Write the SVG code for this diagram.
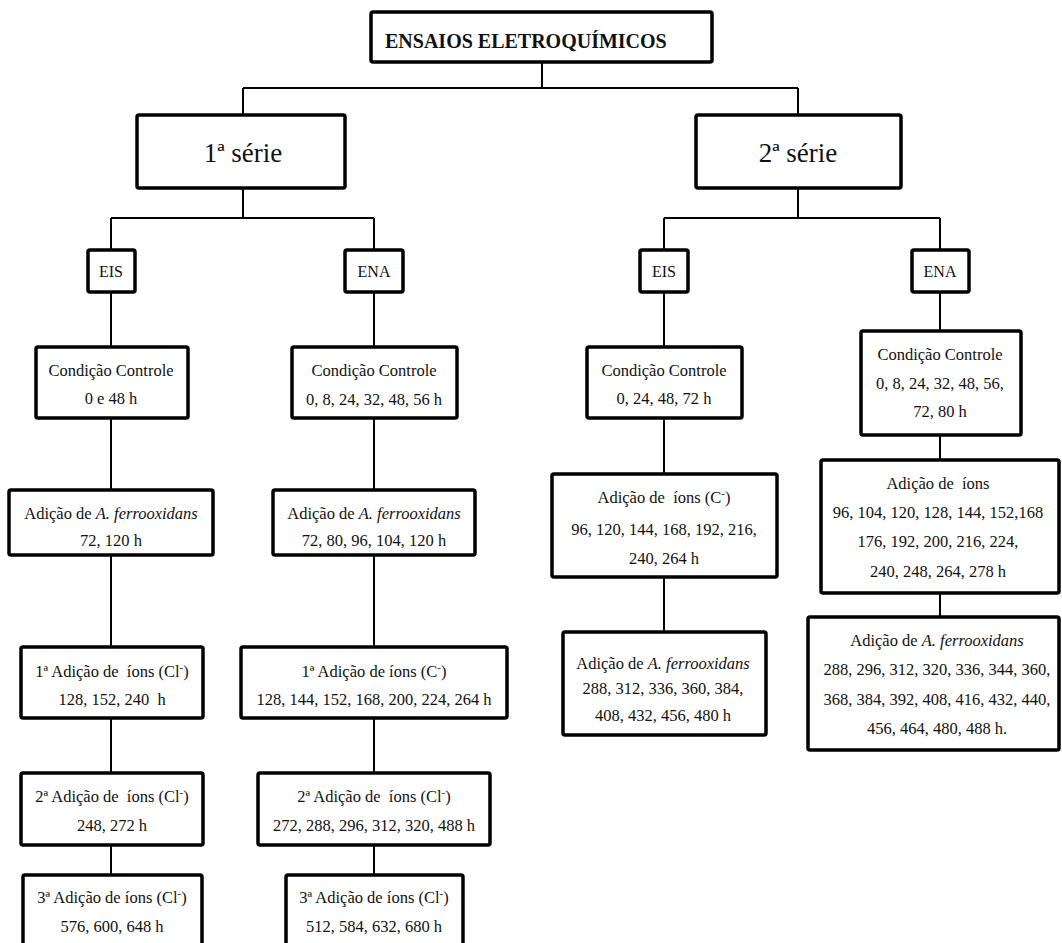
<svg xmlns="http://www.w3.org/2000/svg" width="1062" height="943" viewBox="0 0 1062 943">
<style>
.box{fill:#fff;stroke:#000;stroke-width:3.5}
.con{stroke:#000;stroke-width:2;fill:none}
text{font-family:"Times New Roman",Times,"Liberation Serif",Tinos,"DejaVu Serif",serif;fill:#111;text-anchor:middle;white-space:pre}
.t{font-size:16.5px}
.s{font-size:16px}
.big{font-size:27px}
.title{font-size:20px;font-weight:bold;text-anchor:start}
.i{font-style:italic}
</style>
<rect width="1062" height="943" fill="#fff"/>
<g id="connectors">
<path class="con" d="M542,62V88M243,88H798M243,88V115M798,88V115"/>
<path class="con" d="M243,188V218M111,218H374M111,218V250M374,218V250"/>
<path class="con" d="M798,188V218M664,218H940M664,218V250M940,218V250"/>
<path class="con" d="M111,292V347M111,418V490M111,555V647M111,718V773M111,845V875"/>
<path class="con" d="M374,292V347M374,418V490M374,555V647M374,718V773M374,845V875"/>
<path class="con" d="M664,292V347M664,418V474M664,577V632"/>
<path class="con" d="M940,292V331M940,435V460M940,593V617"/>
</g>
<g id="n-title"><rect class="box" x="371" y="12" width="341" height="50" rx="2"/><text class="title" x="385" y="48">ENSAIOS ELETROQUÍMICOS</text></g>
<g id="n-serie1"><rect class="box" x="137" y="115" width="208" height="73" rx="2"/><text class="big" x="243" y="162">1ª série</text></g>
<g id="n-serie2"><rect class="box" x="696" y="115" width="205" height="73" rx="2"/><text class="big" x="798" y="162">2ª série</text></g>
<g id="n-eis1"><rect class="box" x="88" y="250" width="47" height="42" rx="2"/><text class="s" x="111" y="277">EIS</text></g>
<g id="n-ena1"><rect class="box" x="345" y="250" width="58" height="42" rx="2"/><text class="s" x="374" y="277">ENA</text></g>
<g id="n-eis2"><rect class="box" x="640" y="250" width="48" height="42" rx="2"/><text class="s" x="664" y="277">EIS</text></g>
<g id="n-ena2"><rect class="box" x="912" y="250" width="57" height="42" rx="2"/><text class="s" x="940" y="277">ENA</text></g>

<g id="n-c1"><rect class="box" x="36" y="347" width="152" height="71" rx="2"/><text class="t" x="111" y="376">Condição Controle</text><text class="t" x="111" y="404">0 e 48 h</text></g>
<g id="n-a1"><rect class="box" x="9" y="490" width="204" height="65" rx="2"/><text class="t" x="111" y="519">Adição de <tspan class="i">A. ferrooxidans</tspan></text><text class="t" x="111" y="546">72, 120 h</text></g>
<g id="n-i1a"><rect class="box" x="21" y="647" width="182" height="71" rx="2"/><text class="t" x="112" y="677">1ª Adição de  íons (Cl<tspan dy="-6" font-size="11">-</tspan><tspan dy="6">)</tspan></text><text class="t" x="112" y="705">128, 152, 240  h</text></g>
<g id="n-i1b"><rect class="box" x="21" y="773" width="182" height="72" rx="2"/><text class="t" x="112" y="802">2ª Adição de  íons (Cl<tspan dy="-6" font-size="11">-</tspan><tspan dy="6">)</tspan></text><text class="t" x="112" y="831">248, 272 h</text></g>
<g id="n-i1c"><rect class="box" x="23" y="875" width="179" height="80" rx="2"/><text class="t" x="112" y="903">3ª Adição de íons (Cl<tspan dy="-6" font-size="11">-</tspan><tspan dy="6">)</tspan></text><text class="t" x="112" y="932">576, 600, 648 h</text></g>

<g id="n-c2"><rect class="box" x="292" y="347" width="165" height="71" rx="2"/><text class="t" x="374" y="376">Condição Controle</text><text class="t" x="374" y="405">0, 8, 24, 32, 48, 56 h</text></g>
<g id="n-a2"><rect class="box" x="273" y="490" width="202" height="65" rx="2"/><text class="t" x="374" y="519">Adição de <tspan class="i">A. ferrooxidans</tspan></text><text class="t" x="374" y="546">72, 80, 96, 104, 120 h</text></g>
<g id="n-i2a"><rect class="box" x="241" y="647" width="266" height="71" rx="2"/><text class="t" x="374" y="677">1ª Adição de íons (C<tspan dy="-6" font-size="11">-</tspan><tspan dy="6">)</tspan></text><text class="t" x="374" y="705">128, 144, 152, 168, 200, 224, 264 h</text></g>
<g id="n-i2b"><rect class="box" x="258" y="773" width="232" height="72" rx="2"/><text class="t" x="374" y="802">2ª Adição de  íons (Cl<tspan dy="-6" font-size="11">-</tspan><tspan dy="6">)</tspan></text><text class="t" x="374" y="831">272, 288, 296, 312, 320, 488 h</text></g>
<g id="n-i2c"><rect class="box" x="286" y="875" width="177" height="80" rx="2"/><text class="t" x="374" y="903">3ª Adição de íons (Cl<tspan dy="-6" font-size="11">-</tspan><tspan dy="6">)</tspan></text><text class="t" x="374" y="932">512, 584, 632, 680 h</text></g>

<g id="n-c3"><rect class="box" x="587" y="347" width="155" height="71" rx="2"/><text class="t" x="664" y="376">Condição Controle</text><text class="t" x="664" y="404">0, 24, 48, 72 h</text></g>
<g id="n-i3"><rect class="box" x="552" y="474" width="225" height="103" rx="2"/><text class="t" x="664" y="503">Adição de  íons (C<tspan dy="-6" font-size="11">-</tspan><tspan dy="6">)</tspan></text><text class="t" x="664" y="535">96, 120, 144, 168, 192, 216,</text><text class="t" x="664" y="564">240, 264 h</text></g>
<g id="n-a3"><rect class="box" x="563" y="632" width="203" height="103" rx="2"/><text class="t" x="663" y="669">Adição de <tspan class="i">A. ferrooxidans</tspan></text><text class="t" x="663" y="694">288, 312, 336, 360, 384,</text><text class="t" x="663" y="721">408, 432, 456, 480 h</text></g>

<g id="n-c4"><rect class="box" x="861" y="331" width="160" height="104" rx="2"/><text class="t" x="940" y="360">Condição Controle</text><text class="t" x="940" y="389">0, 8, 24, 32, 48, 56,</text><text class="t" x="940" y="417">72, 80 h</text></g>
<g id="n-i4"><rect class="box" x="821" y="460" width="238" height="133" rx="2"/><text class="t" x="938" y="489">Adição de  íons</text><text class="t" x="938" y="518">96, 104, 120, 128, 144, 152,168</text><text class="t" x="938" y="547">176, 192, 200, 216, 224,</text><text class="t" x="938" y="577">240, 248, 264, 278 h</text></g>
<g id="n-a4"><rect class="box" x="808" y="617" width="251" height="133" rx="2"/><text class="t" x="937" y="646">Adição de <tspan class="i">A. ferrooxidans</tspan></text><text class="t" x="937" y="675">288, 296, 312, 320, 336, 344, 360,</text><text class="t" x="937" y="705">368, 384, 392, 408, 416, 432, 440,</text><text class="t" x="937" y="734">456, 464, 480, 488 h.</text></g>
</svg>
